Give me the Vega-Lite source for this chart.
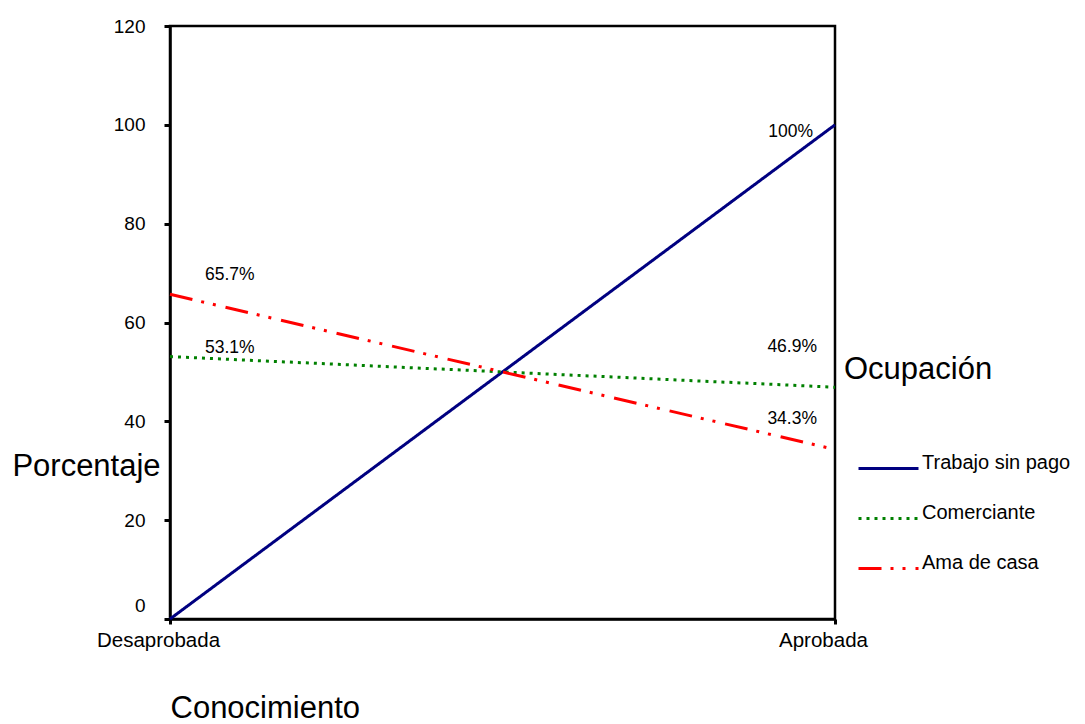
{
  "$schema": "https://vega.github.io/schema/vega-lite/v6.json",
  "width": 665,
  "height": 593,
  "autosize": {"type": "none"},
  "padding": {"left": 170, "top": 26, "right": 250, "bottom": 105},
  "background": "white",
  "config": {
    "font": "Liberation Sans",
    "view": {"stroke": "black", "strokeWidth": 2.5},
    "axis": {"grid": false, "domainColor": "black", "domainWidth": 2.5, "tickColor": "black", "labelColor": "black", "titleColor": "black", "titleFontWeight": "normal", "labelFont": "Liberation Sans", "titleFont": "Liberation Sans"},
    "legend": {"labelFont": "Liberation Sans", "titleFont": "Liberation Sans"}
  },
  "data": {
    "values": [
      {"conocimiento": "Desaprobada", "serie": "Trabajo sin pago", "valor": 0, "etiqueta": ""},
      {"conocimiento": "Aprobada", "serie": "Trabajo sin pago", "valor": 100, "etiqueta": "100%"},
      {"conocimiento": "Desaprobada", "serie": "Comerciante", "valor": 53.1, "etiqueta": "53.1%"},
      {"conocimiento": "Aprobada", "serie": "Comerciante", "valor": 46.9, "etiqueta": "46.9%"},
      {"conocimiento": "Desaprobada", "serie": "Ama de casa", "valor": 65.7, "etiqueta": "65.7%"},
      {"conocimiento": "Aprobada", "serie": "Ama de casa", "valor": 34.3, "etiqueta": "34.3%"}
    ]
  },
  "encoding": {
    "x": {
      "field": "conocimiento", "type": "ordinal",
      "scale": {"type": "point", "domain": ["Desaprobada", "Aprobada"], "padding": 0},
      "axis": {
        "title": "Conocimiento", "titleFontSize": 31, "titleAlign": "left", "titleX": 0, "titleY": 98, "titleBaseline": "alphabetic",
        "labelAngle": 0, "labelFontSize": 20.5, "labelPadding": 6, "labelOffset": -12, "tickSize": 5, "tickWidth": 3
      }
    },
    "y": {
      "field": "valor", "type": "quantitative",
      "scale": {"domain": [0, 120], "nice": false},
      "axis": {
        "title": "Porcentaje", "titleFontSize": 31, "titleAngle": 0, "titleAlign": "center", "titleX": -84, "titleY": 449, "titleBaseline": "alphabetic",
        "values": [0, 20, 40, 60, 80, 100, 120], "labelFontSize": 19, "labelPadding": 19, "tickSize": 6, "tickWidth": 3,
        "labelOffset": {"condition": {"test": "datum.value == 0", "value": -14}, "value": 0}
      }
    }
  },
  "layer": [
    {
      "mark": {"type": "line", "strokeWidth": 3},
      "encoding": {
        "color": {
          "field": "serie", "type": "nominal",
          "scale": {"domain": ["Trabajo sin pago", "Comerciante", "Ama de casa"], "range": ["#000080", "#008000", "#FF0000"]},
          "legend": {
            "title": "Ocupación", "orient": "none", "legendX": 674, "legendY": 329, "padding": 0,
            "titleFontSize": 31, "titleFontWeight": "normal", "titleBaseline": "top", "titlePadding": 51, "titleColor": "black",
            "labelFontSize": 20, "labelColor": "black", "labelBaseline": "alphabetic", "labelOffset": 2,
            "symbolType": "stroke", "symbolSize": 3600, "symbolStrokeWidth": 3, "symbolOffset": 13, "rowPadding": 12
          }
        },
        "strokeDash": {
          "field": "serie", "type": "nominal",
          "scale": {"domain": ["Trabajo sin pago", "Comerciante", "Ama de casa"], "range": [[1, 0], [3, 5], [23, 9, 3, 9, 3, 10]]},
          "legend": null
        }
      }
    },
    {
      "transform": [{"filter": "datum.serie == 'Ama de casa' && datum.conocimiento == 'Desaprobada'"}],
      "mark": {"type": "text", "align": "left", "baseline": "alphabetic", "dx": 35, "dy": -14, "fontSize": 17.5, "color": "black"},
      "encoding": {"text": {"field": "etiqueta"}}
    },
    {
      "transform": [{"filter": "datum.serie == 'Comerciante' && datum.conocimiento == 'Desaprobada'"}],
      "mark": {"type": "text", "align": "left", "baseline": "alphabetic", "dx": 35, "dy": -4, "fontSize": 17.5, "color": "black"},
      "encoding": {"text": {"field": "etiqueta"}}
    },
    {
      "transform": [{"filter": "datum.serie == 'Comerciante' && datum.conocimiento == 'Aprobada'"}],
      "mark": {"type": "text", "align": "right", "baseline": "alphabetic", "dx": -18, "dy": -35, "fontSize": 17.5, "color": "black"},
      "encoding": {"text": {"field": "etiqueta"}}
    },
    {
      "transform": [{"filter": "datum.serie == 'Ama de casa' && datum.conocimiento == 'Aprobada'"}],
      "mark": {"type": "text", "align": "right", "baseline": "alphabetic", "dx": -18, "dy": -26, "fontSize": 17.5, "color": "black"},
      "encoding": {"text": {"field": "etiqueta"}}
    },
    {
      "transform": [{"filter": "datum.serie == 'Trabajo sin pago' && datum.conocimiento == 'Aprobada'"}],
      "mark": {"type": "text", "align": "right", "baseline": "alphabetic", "dx": -22, "dy": 12, "fontSize": 17.5, "color": "black"},
      "encoding": {"text": {"field": "etiqueta"}}
    }
  ]
}
